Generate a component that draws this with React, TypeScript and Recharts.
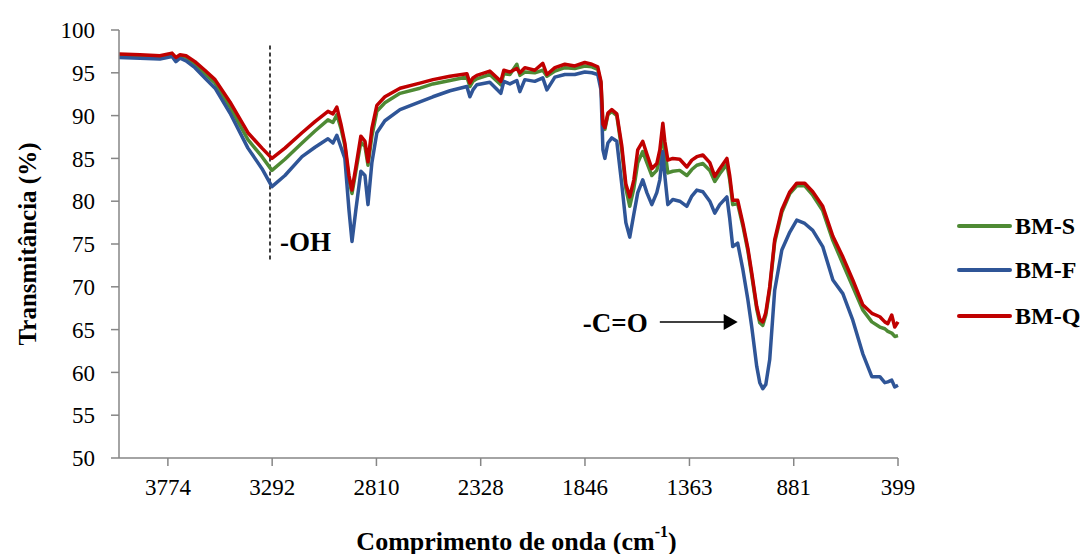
import { LineChart, Line, XAxis, YAxis, ReferenceLine, ReferenceDot, Label } from 'recharts'

const waveNumbers = [
  4000, 3903, 3811, 3755, 3737, 3718, 3690, 3649, 3603, 3556, 3487, 3404, 3339, 3293, 3233, 3154,
  3094, 3034, 3011, 2993, 2974, 2956, 2937, 2923, 2905, 2882, 2863, 2849, 2831, 2808, 2771, 2701,
  2609, 2549, 2470, 2392, 2378, 2364, 2346, 2286, 2235, 2221, 2193, 2161, 2147, 2124, 2078, 2041,
  2022, 1985, 1939, 1893, 1847, 1814, 1787, 1772, 1763, 1754, 1740, 1722, 1699, 1676, 1657, 1639,
  1620, 1602, 1579, 1560, 1537, 1514, 1500, 1486, 1477, 1463, 1440, 1408, 1375, 1352, 1329, 1301,
  1269, 1246, 1223, 1190, 1177, 1163, 1140, 1116, 1093, 1075, 1052, 1038, 1024, 1010, 992, 969,
  936, 899, 867, 830, 793, 747, 700, 654, 608, 562, 520, 483, 460, 446, 428, 414, 399,
]

const bmS = [
  97.0, 96.9, 96.9, 97.1, 96.6, 96.9, 96.8, 96.0, 94.9, 93.8, 91.0, 87.2, 85.2, 83.6, 84.9, 86.8,
  88.2, 89.5, 89.2, 90.1, 88.5, 86.5, 82.5, 80.9, 83.5, 86.9, 86.4, 84.2, 87.6, 90.5, 91.5, 92.6,
  93.2, 93.7, 94.1, 94.5, 93.4, 94.0, 94.3, 94.8, 93.6, 94.9, 94.8, 96.0, 94.7, 95.1, 95.0, 95.3,
  94.6, 95.2, 95.6, 95.5, 95.8, 95.7, 95.4, 93.8, 88.8, 88.4, 90.1, 90.5, 90.0, 86.0, 81.5, 79.4,
  81.5, 84.5, 85.8, 84.5, 83.0, 83.6, 85.0, 88.1, 86.0, 83.3, 83.5, 83.6, 83.0, 83.7, 84.2, 84.4,
  83.6, 82.3, 83.2, 84.3, 82.5, 79.6, 79.7, 77.1, 74.2, 71.3, 67.4, 65.8, 65.5, 66.7, 69.7, 75.2,
  78.7, 80.9, 81.8, 81.8, 80.7, 78.9, 75.4, 72.7, 70.0, 67.3, 65.9, 65.3, 65.1, 64.8, 64.6, 64.2, 64.3,
]

const bmF = [
  96.8, 96.7, 96.6, 96.9, 96.3, 96.7, 96.4, 95.6, 94.4, 93.2, 90.3, 86.2, 83.8, 81.7, 83.0, 85.2,
  86.3, 87.3, 86.8, 87.7, 86.3, 85.0, 79.0, 75.3, 79.0, 83.5, 83.0, 79.6, 84.5, 88.0, 89.4, 90.7,
  91.6, 92.2, 92.9, 93.4, 92.2, 93.0, 93.6, 93.9, 92.6, 94.0, 93.7, 94.1, 92.8, 94.2, 94.0, 94.4,
  93.0, 94.5, 94.8, 94.8, 95.1, 95.0, 94.8, 93.0, 86.0, 85.0, 86.8, 87.4, 87.0, 82.0, 77.5, 75.8,
  78.5, 81.0, 82.5, 81.0, 79.6, 81.0, 82.5, 85.8, 83.0, 79.6, 80.2, 80.0, 79.4, 80.6, 81.3, 81.1,
  80.0, 78.6, 79.6, 80.5, 78.0, 74.7, 75.1, 72.0, 68.5, 65.3, 60.7, 58.8, 58.1, 58.6, 61.5, 69.6,
  74.3, 76.4, 77.8, 77.4, 76.6, 74.7, 70.8, 69.2, 66.1, 62.2, 59.5, 59.5, 58.8, 58.9, 59.1, 58.3, 58.5,
]

const bmQ = [
  97.2, 97.1, 97.0, 97.3, 96.8, 97.1, 97.0, 96.3, 95.3, 94.2, 91.6, 88.0, 86.2, 85.0, 86.2, 88.0,
  89.3, 90.5, 90.2, 91.0, 89.0, 86.8, 83.0, 81.3, 84.0, 87.6, 87.0, 84.6, 88.5, 91.2, 92.2, 93.2,
  93.8, 94.2, 94.6, 94.9, 93.8, 94.4, 94.7, 95.2, 94.0, 95.3, 95.1, 95.5, 95.0, 95.6, 95.3, 96.1,
  94.8, 95.6, 96.0, 95.8, 96.2, 96.0, 95.7, 94.0, 89.0, 88.6, 90.3, 90.7, 90.2, 86.5, 82.0, 80.5,
  82.5, 86.0, 87.0, 85.5, 83.8, 84.4, 86.0, 89.1, 87.0, 84.8, 85.0, 84.9, 84.0, 84.8, 85.2, 85.4,
  84.5, 82.9, 83.8, 85.0, 83.0, 80.1, 80.1, 77.4, 74.5, 71.6, 67.7, 66.2, 65.9, 67.0, 70.0, 75.5,
  79.0, 81.1, 82.1, 82.1, 81.1, 79.4, 75.9, 73.5, 70.8, 67.9, 66.9, 66.5, 65.9, 65.7, 66.7, 65.3, 65.9,
]

const xTicks = [3774, 3292, 2810, 2328, 1846, 1363, 881, 399]
const yTicks = [50, 55, 60, 65, 70, 75, 80, 85, 90, 95, 100]

const series = [
  { key: 'S', name: 'BM-S', color: '#4E8A34' },
  { key: 'F', name: 'BM-F', color: '#2F5597' },
  { key: 'Q', name: 'BM-Q', color: '#C00000' },
]

const data = waveNumbers.map((wn, i) => ({ wn, S: bmS[i], F: bmF[i], Q: bmQ[i] }))

const FONT = "'Times New Roman', 'Liberation Serif', 'DejaVu Serif', serif"
const AXIS = '#868686'

const annText = (txt: string) => (p: any) => (
  <text x={p.cx} y={p.cy} style={{ fontFamily: FONT }} fontSize={27} fontWeight="bold" fill="#000" dominantBaseline="central">
    {txt}
  </text>
)

const arrowHead = (p: any) => (
  <path d={`M${p.cx - 14},${p.cy - 8} L${p.cx},${p.cy} L${p.cx - 14},${p.cy + 8} Z`} fill="#000" />
)

export default function App() {
  return (
    <div style={{ position: 'relative', width: 1073, height: 546, fontFamily: FONT }}>
      <LineChart width={1073} height={546} data={data} margin={{ top: 22, right: 183, bottom: 46, left: 51 }}
        style={{ fontFamily: FONT }}>
        <XAxis
          dataKey="wn"
          type="number"
          domain={[399, 4000]}
          reversed
          ticks={xTicks}
          interval={0}
          height={50}
          stroke={AXIS}
          strokeWidth={1.5}
          tickSize={8}
          tickMargin={13}
          tick={{ fill: '#000', fontSize: 23, style: { fontFamily: FONT } }}
        >
          <Label
            content={({ viewBox }: any) => (
              <text x={viewBox.x + viewBox.width / 2 + 8} y={533} textAnchor="middle" dominantBaseline="central"
                style={{ fontFamily: FONT }} fontSize={26} fontWeight="bold" fill="#000">
                Comprimento de onda (cm<tspan dy={-10} fontSize={16}>-1</tspan><tspan dy={10}>)</tspan>
              </text>
            )}
          />
        </XAxis>
        <YAxis
          type="number"
          domain={[50, 100]}
          ticks={yTicks}
          interval={0}
          width={60}
          stroke={AXIS}
          strokeWidth={1.5}
          tickSize={8}
          tickMargin={16}
          tick={{ fill: '#000', fontSize: 23, style: { fontFamily: FONT } }}
        >
          <Label
            content={({ viewBox }: any) => (
              <text x={19} y={viewBox.y + viewBox.height / 2} textAnchor="middle" dominantBaseline="central"
                transform={`rotate(-90 19 ${viewBox.y + viewBox.height / 2})`}
                style={{ fontFamily: FONT }} fontSize={25} fontWeight="bold" fill="#000">
                Transmitância (%)
              </text>
            )}
          />
        </YAxis>
        <ReferenceLine segment={[{ x: 3302, y: 98.2 }, { x: 3302, y: 72.9 }]} stroke="#000" strokeWidth={1.5} strokeDasharray="4 3" />
        <ReferenceLine segment={[{ x: 1500, y: 65.9 }, { x: 1190, y: 65.9 }]} stroke="#000" strokeWidth={1.5} />
        <ReferenceDot x={1140} y={65.9} r={0} shape={arrowHead} />
        <ReferenceDot x={3256} y={75.2} r={0} shape={annText('-OH')} />
        <ReferenceDot x={1856} y={65.8} r={0} shape={annText('-C=O')} />
        {series.map(s => (
          <Line key={s.key} dataKey={s.key} name={s.name} type="linear" stroke={s.color} strokeWidth={3.5}
            strokeLinejoin="round" dot={false} activeDot={false} isAnimationActive={false} />
        ))}
      </LineChart>
      <div style={{ position: 'absolute', left: 949, top: 218 }}>
        {series.map((s, i) => (
          <div key={s.key} style={{ position: 'absolute', top: [0, 44, 90][i] - 17, display: 'flex', alignItems: 'center', height: 34, whiteSpace: 'nowrap' }}>
            <div style={{ width: 55, height: 4, background: s.color, borderRadius: 2 }} />
            <span style={{ marginLeft: 3, fontSize: 24, fontWeight: 'bold', color: '#000', fontFamily: FONT }}>{s.name}</span>
          </div>
        ))}
      </div>
    </div>
  )
}
